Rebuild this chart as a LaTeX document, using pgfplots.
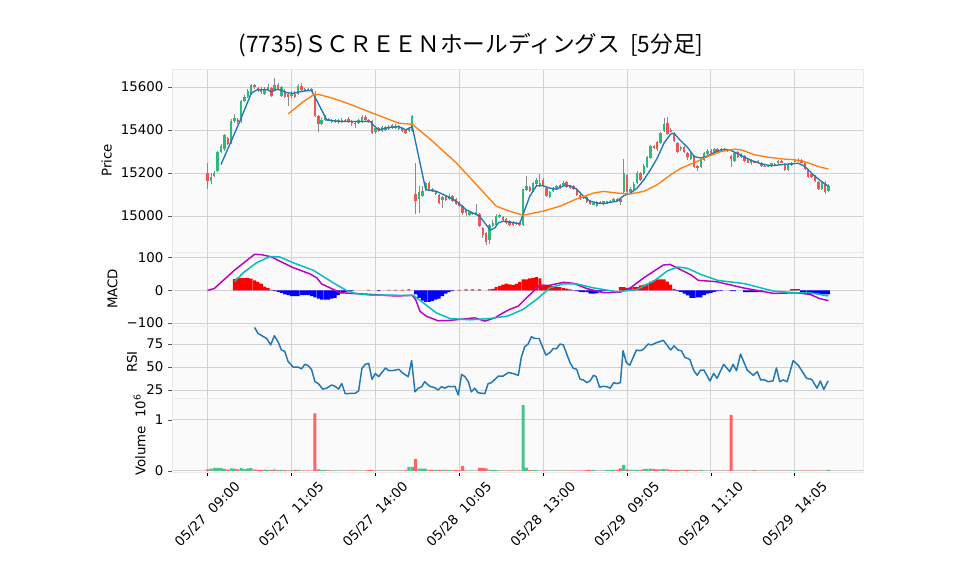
\documentclass[border=0pt]{standalone}
\usepackage{fontspec}
\setmainfont{DejaVu Sans}
\newfontfamily\jpfont{Noto Sans CJK JP}
\usepackage{pgfplots}
\usepackage{pgfplotstable}
\pgfplotsset{compat=1.18}

\definecolor{upc}{HTML}{2EBA78}
\definecolor{dnc}{HTML}{F25454}
\definecolor{vupc}{HTML}{4CC38A}
\definecolor{vdnc}{HTML}{FF6464}
\definecolor{wickc}{HTML}{8A8A8A}
\definecolor{bgc}{HTML}{FAFAFA}
\definecolor{gridc}{HTML}{D2D2D2}
\definecolor{mablue}{HTML}{1F77B4}
\definecolor{maorange}{HTML}{FF7F0E}
\definecolor{macdm}{HTML}{BF00BF}
\definecolor{macdc}{HTML}{00BFBF}

% 5-minute bars: index, open, high, low, close, volume (10^6), up(1)/down(0)
\pgfplotstableread{
i o h l c v u
0 15200 15245 15125 15165 0.03 0
1 15165 15200 15150 15180 0.045 1
2 15185 15210 15180 15200 0.06 1
3 15210 15305 15205 15300 0.06 1
4 15300 15335 15295 15325 0.055 1
5 15310 15380 15305 15375 0.04 1
6 15365 15370 15330 15335 0.025 0
7 15340 15450 15335 15440 0.05 1
8 15440 15475 15435 15455 0.045 1
9 15445 15455 15430 15440 0.03 0
10 15440 15540 15435 15535 0.06 1
11 15535 15565 15530 15555 0.035 1
12 15555 15590 15550 15580 0.05 1
13 15570 15615 15565 15610 0.055 1
14 15610 15615 15590 15600 0.025 0
15 15595 15600 15575 15585 0.02 0
16 15590 15600 15570 15575 0.02 0
17 15570 15600 15565 15590 0.025 1
18 15590 15615 15585 15600 0.02 1
19 15595 15600 15555 15560 0.02 0
20 15585 15640 15580 15610 0.03 1
21 15610 15620 15585 15590 0.015 0
22 15560 15605 15555 15600 0.02 1
23 15580 15590 15550 15555 0.012 0
24 15570 15575 15510 15555 0.012 0
25 15560 15580 15550 15570 0.01 1
26 15570 15580 15550 15555 0.02 0
27 15570 15615 15565 15605 0.02 1
28 15605 15620 15580 15585 0.008 0
29 15590 15595 15580 15585 0.006 0
30 15590 15595 15580 15585 0.006 0
31 15590 15595 15580 15585 0.005 0
32 15560 15580 15460 15465 1.13 0
33 15465 15470 15390 15430 0.03 0
34 15430 15455 15425 15445 0.02 1
35 15445 15470 15440 15460 0.02 1
36 15450 15455 15440 15445 0.01 0
37 15448 15452 15435 15440 0.008 0
38 15440 15452 15435 15448 0.008 1
39 15438 15450 15430 15445 0.008 1
40 15440 15455 15435 15448 0.006 1
41 15445 15450 15438 15442 0.006 0
42 15452 15460 15435 15440 0.008 0
43 15440 15445 15420 15432 0.006 0
44 15435 15440 15410 15430 0.006 0
45 15435 15450 15430 15445 0.006 1
46 15440 15470 15435 15460 0.008 1
47 15460 15470 15440 15445 0.006 0
48 15445 15450 15435 15440 0.015 0
49 15440 15445 15380 15385 0.02 0
50 15390 15415 15380 15410 0.006 1
51 15410 15415 15390 15395 0.006 0
52 15395 15420 15390 15415 0.006 1
53 15415 15420 15395 15400 0.006 0
54 15405 15425 15400 15415 0.006 1
55 15410 15430 15405 15425 0.006 1
56 15420 15430 15405 15410 0.006 0
57 15405 15425 15400 15420 0.006 1
58 15410 15415 15390 15395 0.008 0
59 15400 15405 15380 15385 0.01 0
60 15395 15410 15390 15405 0.08 1
61 15395 15470 15390 15465 0.08 1
62 15105 15245 15010 15070 0.235 0
63 15080 15140 15015 15110 0.045 1
64 15095 15140 15090 15115 0.045 1
65 15120 15160 15115 15155 0.045 1
66 15155 15165 15115 15120 0.02 0
67 15125 15130 15110 15115 0.02 0
68 15105 15120 15100 15115 0.02 1
69 15100 15105 15055 15060 0.02 0
70 15075 15095 15040 15090 0.02 1
71 15095 15100 15070 15075 0.02 0
72 15080 15105 15075 15095 0.015 1
73 15095 15100 15065 15070 0.01 0
74 15080 15085 15050 15055 0.02 0
75 15065 15070 15040 15045 0.01 0
76 15045 15050 15005 15015 0.1 0
77 15030 15035 15000 15015 0.006 0
78 15005 15025 15000 15020 0.006 1
79 15010 15020 15005 15015 0.006 1
80 15012 15055 15005 15017 0.008 1
81 15010 15015 14950 14955 0.06 0
82 14945 14950 14900 14910 0.06 0
83 14920 14925 14865 14880 0.05 0
84 14890 14965 14870 14960 0.02 1
85 14955 14980 14950 14970 0.02 1
86 14960 15010 14955 15000 0.015 1
87 14995 15010 14990 15005 0.008 1
88 14995 15000 14975 14980 0.006 0
89 14985 14990 14965 14970 0.006 0
90 14975 14980 14955 14960 0.006 0
91 14970 14975 14955 14960 0.006 0
92 14970 14972 14958 14962 0.006 0
93 14968 14972 14955 14962 0.006 0
94 14960 15125 14955 15125 1.29 1
95 15120 15185 15115 15140 0.065 1
96 15135 15140 15110 15115 0.015 0
97 15115 15160 15110 15155 0.015 1
98 15150 15175 15145 15170 0.01 1
99 15140 15195 15135 15155 0.006 1
100 15170 15175 15140 15145 0.006 0
101 15130 15135 15090 15095 0.006 0
102 15090 15115 15085 15110 0.006 1
103 15115 15135 15110 15130 0.006 1
104 15130 15145 15125 15138 0.006 1
105 15145 15150 15125 15130 0.006 0
106 15145 15165 15140 15155 0.006 1
107 15160 15165 15130 15135 0.006 0
108 15140 15145 15125 15132 0.006 0
109 15140 15145 15120 15125 0.006 0
110 15125 15130 15095 15100 0.006 0
111 15100 15105 15075 15080 0.006 0
112 15090 15095 15080 15085 0.006 0
113 15090 15095 15060 15065 0.02 0
114 15070 15075 15050 15055 0.02 0
115 15055 15065 15050 15060 0.02 1
116 15045 15070 15040 15065 0.006 1
117 15065 15070 15055 15058 0.006 0
118 15055 15072 15050 15068 0.006 1
119 15060 15072 15055 15068 0.02 1
120 15068 15075 15062 15072 0.02 1
121 15070 15085 15065 15080 0.02 1
122 15078 15082 15070 15075 0.02 0
123 15080 15085 15050 15065 0.05 0
124 15110 15265 15105 15200 0.12 1
125 15190 15195 15100 15110 0.03 0
126 15110 15135 15105 15125 0.02 1
127 15120 15160 15115 15150 0.02 1
128 15155 15210 15150 15200 0.02 1
129 15200 15205 15165 15170 0.02 0
130 15195 15240 15190 15235 0.04 1
131 15230 15280 15225 15275 0.04 1
132 15270 15330 15265 15325 0.045 1
133 15325 15330 15310 15320 0.04 0
134 15345 15350 15305 15310 0.03 0
135 15340 15390 15335 15385 0.03 1
136 15395 15455 15390 15430 0.04 1
137 15435 15460 15375 15380 0.03 0
138 15400 15410 15390 15395 0.02 0
139 15385 15390 15345 15350 0.02 0
140 15340 15345 15295 15300 0.015 0
141 15310 15325 15305 15320 0.02 1
142 15320 15325 15295 15300 0.02 0
143 15295 15300 15260 15275 0.02 0
144 15265 15300 15260 15290 0.02 1
145 15280 15285 15225 15230 0.015 0
146 15235 15240 15210 15225 0.01 0
147 15230 15265 15225 15260 0.02 1
148 15260 15300 15255 15295 0.008 1
149 15290 15310 15285 15305 0.006 1
150 15305 15310 15290 15295 0.006 0
151 15300 15315 15295 15310 0.006 1
152 15312 15318 15300 15306 0.006 0
153 15306 15318 15302 15312 0.006 1
154 15312 15316 15304 15308 0.006 0
155 15308 15312 15300 15306 0.006 0
156 15280 15285 15230 15265 1.1 0
157 15255 15300 15250 15295 0.006 1
158 15300 15305 15270 15275 0.006 0
159 15275 15295 15270 15290 0.006 1
160 15280 15285 15250 15255 0.006 0
161 15262 15265 15245 15248 0.006 0
162 15245 15265 15240 15260 0.006 1
163 15255 15258 15248 15252 0.015 0
164 15252 15260 15248 15255 0.006 1
165 15248 15250 15228 15232 0.006 0
166 15235 15238 15228 15232 0.006 0
167 15232 15240 15228 15235 0.006 1
168 15232 15248 15228 15245 0.006 1
169 15240 15245 15235 15238 0.006 0
170 15245 15262 15240 15258 0.006 1
171 15255 15260 15250 15252 0.006 0
172 15240 15245 15210 15215 0.006 0
173 15215 15245 15210 15242 0.006 1
174 15240 15252 15235 15248 0.006 1
175 15255 15265 15252 15258 0.006 1
176 15256 15268 15252 15262 0.006 1
177 15262 15265 15245 15248 0.006 0
178 15245 15250 15215 15220 0.006 0
179 15215 15220 15175 15180 0.006 0
180 15195 15198 15178 15182 0.006 0
181 15185 15190 15158 15162 0.006 0
182 15160 15165 15120 15125 0.006 0
183 15125 15160 15120 15155 0.006 1
184 15155 15162 15105 15110 0.006 0
185 15115 15150 15110 15140 0.02 1
}\candles

% MACD histogram
\pgfplotstableread{
i m
8 35
9 39
10 39
11 38
12 39
13 36
14 31
15 26
16 21
17 12
18 8
19 2
20 -2
21 -4
22 -7
23 -12
24 -14
25 -17
26 -17
27 -17
28 -14
29 -14
30 -14
31 -17
32 -21
33 -25
34 -28
35 -28
36 -28
37 -25
38 -23
39 -14
40 -9
41 -5
42 -3
43 -1
48 2
51 -2
54 2
56 2
58 2
60 3
62 -12
63 -23
64 -31
65 -35
66 -35
67 -33
68 -28
69 -25
70 -17
71 -10
72 -5
73 -2
75 2
77 3
79 3
81 3
84 3
85 5
86 10
87 14
88 18
89 21
90 19
91 17
92 20
93 26
94 34
95 34
96 37
97 39
98 41
99 37
100 18
101 16
102 16
103 13
104 10
105 10
106 8
107 6
108 3
109 1
110 -2
111 -4
112 -5
113 -5
114 -10
115 -10
116 -9
117 -5
118 -2
119 -1
123 10
124 10
125 8
126 8
127 10
128 10
129 16
130 18
131 21
132 27
133 31
134 34
135 34
136 34
137 27
138 18
139 5
140 -2
141 -4
142 -10
143 -15
144 -23
145 -23
146 -21
147 -21
148 -14
149 -10
150 -7
151 -4
152 -2
153 -1
156 -2
157 -2
160 -5
161 -5
162 -5
163 -5
164 -5
165 -5
174 4
175 4
176 4
177 -8
178 -10
179 -12
180 -12
181 -10
182 -10
183 -12
184 -12
185 -12
}\hist

\pgfplotsset{
  upbar/.style={restrict expr to domain={\thisrow{u}}{0.5:1.5}},
  dnbar/.style={restrict expr to domain={\thisrow{u}}{-0.5:0.5}},
  panel/.style={
    scale only axis, width=518.25pt,
    xmin=-10.6, xmax=195.3,
    axis background/.style={fill=bgc},
    axis line style={draw=black!8},
    xtick={0,25,...,175}, xticklabels={},
    xmajorgrids, ymajorgrids,
    major grid style={draw=gridc, line width=0.75pt},
    ytick pos=left, tick align=outside,
    major tick length=3pt,
    major y tick style={draw=black!65, line width=0.6pt},
    major x tick style={draw=none},
    scaled y ticks=false,
    yticklabel style={font=\fontsize{10}{12}\selectfont},
    ylabel style={font=\fontsize{10}{12}\selectfont},
  },
  bars/.style={ybar, bar width=2.3pt, bar shift=0pt, draw=none},
  candle/.style={only marks, mark size=0pt, mark options={draw=none, fill=none},
    error bars/.cd, y dir=both, y explicit, error mark=none,
    error bar style={draw=#1, line width=1.8pt}},
}

\begin{document}
\begin{tikzpicture}
\path[use as bounding box] (0,0) rectangle (718.5pt,-431.25pt);
\node[font=\jpfont\fontsize{17}{19}\selectfont] at (353.25pt,-33.5pt)
  {(7735)ＳＣＲＥＥＮホールディングス\ \ [5分足]};

% ---- price
\begin{axis}[panel, at={(129pt,-51.75pt)}, anchor=north west, height=137.25pt,
  ymin=14833, ymax=15684,
  ytick={15000,15200,15400,15600}, yticklabels={15000,15200,15400,15600},
  ylabel={Price}]
\addplot[only marks, mark size=0pt, mark options={draw=none, fill=none},
  error bars/.cd, y dir=both, y explicit,
  error mark=none, error bar style={draw=wickc, line width=0.6pt}]
  table[x=i, y expr={(\thisrow{h}+\thisrow{l})/2},
        y error expr={(\thisrow{h}-\thisrow{l})/2}] {\candles};
\addplot[upbar, candle=upc]
  table[x=i, y expr={(\thisrow{o}+\thisrow{c})/2},
        y error expr={max(abs(\thisrow{c}-\thisrow{o})/2,1.5)}] {\candles};
\addplot[dnbar, candle=dnc]
  table[x=i, y expr={(\thisrow{o}+\thisrow{c})/2},
        y error expr={max(abs(\thisrow{c}-\thisrow{o})/2,1.5)}] {\candles};
% 5-bar average
\addplot[mablue, line width=1pt, line join=round] coordinates {
(4,15240) (9.6,15440) (13,15571) (14.6,15586) (17.6,15589) (19,15578) (20.6,15589)
(22,15586) (23.5,15574) (25.5,15571) (27.5,15578) (29.5,15583) (31,15583) (31.7,15563)
(35.5,15447) (39.4,15440) (42.4,15440) (48.5,15440) (49.3,15424) (51,15401) (54,15412)
(57,15416) (59,15401) (61,15416) (65,15123) (66,15120) (68.2,15115) (71,15095)
(73,15080) (75,15058) (77,15030) (79,15015) (81,15000) (83,14960) (84.3,14935)
(85.6,14945) (86.6,14968) (88,14976) (90,14972) (93,14965) (94,15007) (96,15092)
(98,15141) (100,15141) (102,15130) (104,15125) (106,15141) (108,15141) (110,15125)
(112,15092) (114,15069) (116,15061) (118,15058) (120,15064) (122,15069) (124,15095)
(126,15107) (128,15130) (130,15169) (132,15216) (134,15270) (136,15339) (138,15382)
(139,15385) (141,15350) (143,15320) (145,15277) (147,15270) (149,15280) (151,15296)
(154,15311) (156,15305) (158,15290) (160,15274) (162,15259) (165,15243) (168,15234)
(171,15239) (174,15243) (176,15246) (178,15231) (180.5,15192) (182.5,15166) (185,15138)};
% 25-bar average
\addplot[maorange, line width=1pt, line join=round] coordinates {
(24,15475) (28.5,15532) (31.5,15563) (33,15566) (36.4,15552) (39.4,15537) (42.4,15520)
(49.3,15478) (57,15432) (61,15427) (66.6,15354) (74.2,15246) (81,15131) (86,15046)
(90,15023) (94,15004) (100,15023) (105,15046) (110,15080) (115,15107) (118,15115)
(122,15107) (126,15103) (130,15115) (134,15146) (138,15192) (141,15222) (143.7,15240)
(145,15248) (149,15277) (153,15300) (157,15311) (159,15308) (163,15285) (167,15274)
(171,15266) (175,15262) (178.5,15250) (182.5,15228) (185,15219)};
\end{axis}

% ---- MACD
\begin{axis}[panel, at={(129pt,-189pt)}, anchor=north west, height=55.5pt,
  ymin=-109, ymax=118,
  ytick={-100,0,100}, yticklabels={−100,0,100}, ylabel={MACD}]
\addplot[bars, fill=red] table[x=i, y expr={max(\thisrow{m},0)}] {\hist};
\addplot[bars, fill=blue] table[x=i, y expr={min(\thisrow{m},0)}] {\hist};
\addplot[macdm, line width=1.1pt, line join=round] coordinates {
(0,0) (2,6) (8,62) (14,111) (16,110) (19,103) (22.5,85) (25.5,70) (30.5,51) (32.5,39)
(34,20) (37.5,3) (39.5,-7) (48.5,-12) (56,-17) (61,-15) (62,-28) (63.3,-64) (65.2,-79)
(68.7,-93) (72,-92) (79.6,-84) (82.6,-94) (85.6,-84) (88,-69) (90,-58) (92.6,-48)
(95,-23) (99,16) (102,16) (106,25) (109,22) (113,6) (118,-7) (123,-5) (126,8) (130,39)
(135.8,78) (137.8,80) (140.7,65) (144.2,47) (146.2,31) (151.6,27) (159.6,8)
(168.6,-9) (175.5,-7) (179.5,-12) (182.4,-25) (185,-31)};
\addplot[macdc, line width=1.1pt, line join=round] coordinates {
(8,27) (10.6,54) (14.6,85) (18.6,104) (21.5,103) (25.5,85) (31.5,62) (37.4,24)
(41.4,0) (44.4,-10) (48.4,-14) (61.3,-15) (64.3,-38) (68.2,-69) (72.2,-86) (78.2,-90)
(84.1,-86) (89.1,-79) (90,-76) (94,-58) (98,-28) (102,8) (106,20) (110,20) (115,8)
(122,-4) (128,3) (133,29) (137,60) (140,72) (143,68) (147,49) (152,31) (160,21)
(168.6,-2) (175.5,-7) (179.5,-7) (185,-17)};
\end{axis}

% ---- RSI
\begin{axis}[panel, at={(129pt,-244.5pt)}, anchor=north west, height=54pt,
  ymin=16.3, ymax=94.6,
  ytick={25,50,75}, yticklabels={25,50,75}, ylabel={RSI}]
\addplot[mablue, line width=1.1pt, line join=round] coordinates {
(14,93) (15,86.6) (17.6,81) (18.8,74) (19.9,84) (21,77.5) (22,68.5) (23,67) (24,56)
(25.5,50) (27,50) (28,48) (29,53) (30,51.5) (31,47) (32,34) (33,32) (34.3,26) (35.5,27)
(37,30.5) (38,29) (39,26) (40,32) (41,21) (44,21.5) (45,24) (46,48.5) (47,53) (48,54)
(49,36.6) (50,43) (51,39.5) (53,49) (54,46) (55,46) (57,47.5) (58.3,43) (59.8,39.5)
(60.8,57) (61.8,23) (62.8,27) (63.8,28.6) (64.7,34) (66.2,29) (67.7,27.5) (68.7,25)
(69.7,28.6) (70.7,27) (71.7,29) (72.7,28.6) (73.7,29) (74.7,19.6) (75.7,42) (76.7,39.5)
(77.7,34) (78.6,23) (79.6,27) (80.6,22) (82.6,21) (83.6,32) (84.6,33) (86.6,40) (88,40)
(89.6,44) (91,43) (92.6,41) (93.5,61) (94.5,72) (95.5,75) (96.5,83) (97.5,81) (98.8,81)
(100.8,63) (102,65.6) (103,70) (104,70) (105,75) (106,74) (108,54.7) (109,48.5)
(110,47.5) (111,36.6) (112,36) (113,33) (114,35) (115,41) (115.8,39.5) (116.8,28)
(117.8,29) (119,28.6) (120,27) (121,33) (122,32) (123,33) (123.8,67.7) (124.8,54.7)
(125.8,52) (127.8,68.5) (128.8,67.7) (129.8,69) (131.3,75) (132.3,74) (133.8,76.5)
(135.8,79) (138,68.5) (139,73) (140.2,68.5) (141.2,67.7) (142.2,60.5) (143.7,58.3)
(144.9,46) (145.9,41) (146.9,46.7) (147.9,46.7) (149.7,34.8) (150.8,43) (151.8,37.7)
(153.8,53) (155.6,45) (156.6,53) (157.6,46) (158.8,64) (160.8,46.7) (162.6,41)
(163.8,45) (164.8,36) (166,36) (167,34) (168.5,35) (169.5,49) (170.5,34) (171.5,36)
(172.7,34) (174.5,57) (176,52) (178.5,37.7) (180,36.6) (181.6,27) (182.6,34.8)
(183.6,25.7) (184.9,34.8)};
\end{axis}

% ---- volume
\begin{axis}[panel, at={(129pt,-298.5pt)}, anchor=north west, height=55.5pt,
  ymin=-0.02, ymax=1.43,
  ytick={0,1}, yticklabels={0,1}, ylabel={Volume\ \ 10\textsuperscript{6}},
  xtick pos=bottom,
  major x tick style={draw=black, line width=0.6pt},
  xticklabels={05/27~~09:00,05/27~~11:05,05/27~~14:00,05/28~~10:05,
               05/28~~13:00,05/29~~09:05,05/29~~11:10,05/29~~14:05},
  xticklabel style={yshift=-29pt, rotate=45, anchor=center,
                    font=\fontsize{10}{12}\selectfont}]
\addplot[bars, fill=vupc, upbar] table[x=i, y=v] {\candles};
\addplot[bars, fill=vdnc, dnbar] table[x=i, y=v] {\candles};
\end{axis}
\end{tikzpicture}
\end{document}
